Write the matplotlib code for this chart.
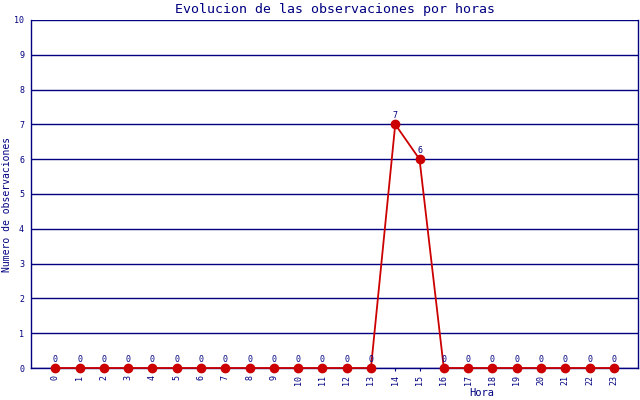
import matplotlib
matplotlib.use('Agg')
import matplotlib.pyplot as plt

horas = list(range(24))
observaciones = [0, 0, 0, 0, 0, 0, 0, 0, 0, 0, 0, 0, 0, 0, 7, 6, 0, 0, 0, 0, 0, 0, 0, 0]
yticks = list(range(11))

navy = '#000080'
rojo = '#cc0000'
fuente = 'DejaVu Sans Mono'

fig = plt.figure(figsize=(6.4, 4), dpi=100)
ax = fig.add_axes([0.0484, 0.08, 0.9486, 0.87])

ax.plot(horas, observaciones, color=rojo, lw=1.3, marker='o', ms=6,
        markerfacecolor=rojo, markeredgecolor=rojo, zorder=3, clip_on=False)
for h, v in zip(horas, observaciones):
    ax.text(h, v + 0.12, str(v), ha='center', va='bottom', color=navy,
            fontsize=6, family=fuente, zorder=4)

ax.set_xlim(-1, 24)
ax.set_ylim(0, 10)
ax.set_yticks(yticks)
ax.set_xticks(horas)
ax.set_xticklabels([str(h) for h in horas], rotation=90, fontsize=6,
                   family=fuente, color=navy)
ax.set_yticklabels([str(y) for y in yticks], fontsize=6, family=fuente, color=navy)
ax.tick_params(axis='x', length=2, color=navy, pad=3)
ax.tick_params(axis='y', length=0, pad=5)

ax.yaxis.grid(True, color=navy, lw=1)
ax.set_axisbelow(True)
for s in ['left', 'bottom', 'right']:
    ax.spines[s].set_color(navy)
    ax.spines[s].set_linewidth(1)
ax.spines['top'].set_visible(False)

fig.text(0.523, 0.977, 'Evolucion de las observaciones por horas', ha='center',
         va='center', color=navy, fontsize=9.5, family=fuente)
fig.text(0.752, 0.017, 'Hora', ha='center', va='center', color=navy,
         fontsize=7.5, family=fuente)
fig.text(0.011, 0.49, 'Numero de observaciones', ha='center', va='center',
         rotation=90, color=navy, fontsize=7, family=fuente)

fig.savefig('out.png', dpi=100)
